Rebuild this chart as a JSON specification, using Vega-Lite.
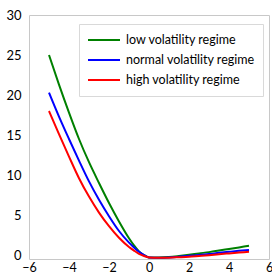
{
  "$schema": "https://vega.github.io/schema/vega-lite/v6.json",
  "autosize": "none",
  "padding": {"left": 29, "top": 15, "right": 3, "bottom": 15},
  "width": 240,
  "height": 244,
  "background": "white",
  "config": {
    "view": {"stroke": "#c8c8c8", "strokeWidth": 1},
    "font": "Lato",
    "axis": {"grid": false, "ticks": false, "domain": false, "labelFont": "Lato", "labelFontSize": 13, "labelColor": "#000000"}
  },
  "data": {
    "values": [
      {"regime": "low volatility regime", "x": -5, "y": 25.0},
      {"regime": "low volatility regime", "x": -4.5, "y": 21.3},
      {"regime": "low volatility regime", "x": -4, "y": 17.8},
      {"regime": "low volatility regime", "x": -3.5, "y": 14.5},
      {"regime": "low volatility regime", "x": -3, "y": 11.6},
      {"regime": "low volatility regime", "x": -2.5, "y": 9.0},
      {"regime": "low volatility regime", "x": -2, "y": 6.5},
      {"regime": "low volatility regime", "x": -1.5, "y": 4.2},
      {"regime": "low volatility regime", "x": -1, "y": 2.1},
      {"regime": "low volatility regime", "x": -0.75, "y": 1.2},
      {"regime": "low volatility regime", "x": -0.5, "y": 0.45},
      {"regime": "low volatility regime", "x": -0.25, "y": 0.0},
      {"regime": "low volatility regime", "x": 0, "y": -0.3},
      {"regime": "low volatility regime", "x": 0.5, "y": -0.32},
      {"regime": "low volatility regime", "x": 1, "y": -0.25},
      {"regime": "low volatility regime", "x": 1.5, "y": -0.12},
      {"regime": "low volatility regime", "x": 2, "y": 0.03},
      {"regime": "low volatility regime", "x": 2.5, "y": 0.2},
      {"regime": "low volatility regime", "x": 3, "y": 0.36},
      {"regime": "low volatility regime", "x": 3.5, "y": 0.55},
      {"regime": "low volatility regime", "x": 4, "y": 0.75},
      {"regime": "low volatility regime", "x": 4.5, "y": 0.95},
      {"regime": "low volatility regime", "x": 5, "y": 1.15},
      {"regime": "normal volatility regime", "x": -5, "y": 20.3},
      {"regime": "normal volatility regime", "x": -4.5, "y": 17.3},
      {"regime": "normal volatility regime", "x": -4, "y": 14.5},
      {"regime": "normal volatility regime", "x": -3.5, "y": 11.8},
      {"regime": "normal volatility regime", "x": -3, "y": 9.2},
      {"regime": "normal volatility regime", "x": -2.5, "y": 6.9},
      {"regime": "normal volatility regime", "x": -2, "y": 4.85},
      {"regime": "normal volatility regime", "x": -1.5, "y": 3.0},
      {"regime": "normal volatility regime", "x": -1, "y": 1.55},
      {"regime": "normal volatility regime", "x": -0.75, "y": 0.95},
      {"regime": "normal volatility regime", "x": -0.5, "y": 0.4},
      {"regime": "normal volatility regime", "x": -0.25, "y": 0.0},
      {"regime": "normal volatility regime", "x": 0, "y": -0.3},
      {"regime": "normal volatility regime", "x": 0.5, "y": -0.33},
      {"regime": "normal volatility regime", "x": 1, "y": -0.3},
      {"regime": "normal volatility regime", "x": 1.5, "y": -0.22},
      {"regime": "normal volatility regime", "x": 2, "y": -0.1},
      {"regime": "normal volatility regime", "x": 2.5, "y": 0.0},
      {"regime": "normal volatility regime", "x": 3, "y": 0.12},
      {"regime": "normal volatility regime", "x": 3.5, "y": 0.27},
      {"regime": "normal volatility regime", "x": 4, "y": 0.4},
      {"regime": "normal volatility regime", "x": 4.5, "y": 0.52},
      {"regime": "normal volatility regime", "x": 5, "y": 0.62},
      {"regime": "high volatility regime", "x": -5, "y": 18.0},
      {"regime": "high volatility regime", "x": -4.5, "y": 15.1},
      {"regime": "high volatility regime", "x": -4, "y": 12.3},
      {"regime": "high volatility regime", "x": -3.5, "y": 9.6},
      {"regime": "high volatility regime", "x": -3, "y": 7.3},
      {"regime": "high volatility regime", "x": -2.5, "y": 5.3},
      {"regime": "high volatility regime", "x": -2, "y": 3.6},
      {"regime": "high volatility regime", "x": -1.5, "y": 2.15},
      {"regime": "high volatility regime", "x": -1, "y": 1.0},
      {"regime": "high volatility regime", "x": -0.75, "y": 0.55},
      {"regime": "high volatility regime", "x": -0.5, "y": 0.15},
      {"regime": "high volatility regime", "x": -0.25, "y": -0.12},
      {"regime": "high volatility regime", "x": 0, "y": -0.3},
      {"regime": "high volatility regime", "x": 0.5, "y": -0.34},
      {"regime": "high volatility regime", "x": 1, "y": -0.33},
      {"regime": "high volatility regime", "x": 1.5, "y": -0.28},
      {"regime": "high volatility regime", "x": 2, "y": -0.22},
      {"regime": "high volatility regime", "x": 2.5, "y": -0.12},
      {"regime": "high volatility regime", "x": 3, "y": -0.02},
      {"regime": "high volatility regime", "x": 3.5, "y": 0.1},
      {"regime": "high volatility regime", "x": 4, "y": 0.2},
      {"regime": "high volatility regime", "x": 4.5, "y": 0.3},
      {"regime": "high volatility regime", "x": 5, "y": 0.4}
    ]
  },
  "mark": {"type": "line", "strokeWidth": 2, "interpolate": "monotone", "clip": true},
  "encoding": {
    "x": {"field": "x", "type": "quantitative", "scale": {"domain": [-6, 6], "nice": false}, "axis": {"title": null, "values": [-6, -4, -2, 0, 2, 4, 6], "labelPadding": 2, "labelFontSize": 12.5, "labelFlush": false}},
    "y": {"field": "y", "type": "quantitative", "scale": {"domain": [-0.5, 30], "nice": false, "zero": false}, "axis": {"title": null, "values": [0, 5, 10, 15, 20, 25, 30], "labelPadding": 8}},
    "color": {
      "field": "regime", "type": "nominal",
      "scale": {"domain": ["low volatility regime", "normal volatility regime", "high volatility regime"], "range": ["#008000", "#0000ff", "#ff0000"]},
      "legend": {
        "title": null, "orient": "none", "legendX": 50, "legendY": 9,
        "symbolType": "stroke", "symbolSize": 1024, "symbolStrokeWidth": 2,
        "labelFont": "Lato", "labelFontSize": 12.5, "labelColor": "#000000", "labelOffset": 5,
        "clipHeight": 16, "rowPadding": 4, "padding": 8, "strokeColor": "#d9d9d9", "fillColor": "white"
      }
    }
  }
}
